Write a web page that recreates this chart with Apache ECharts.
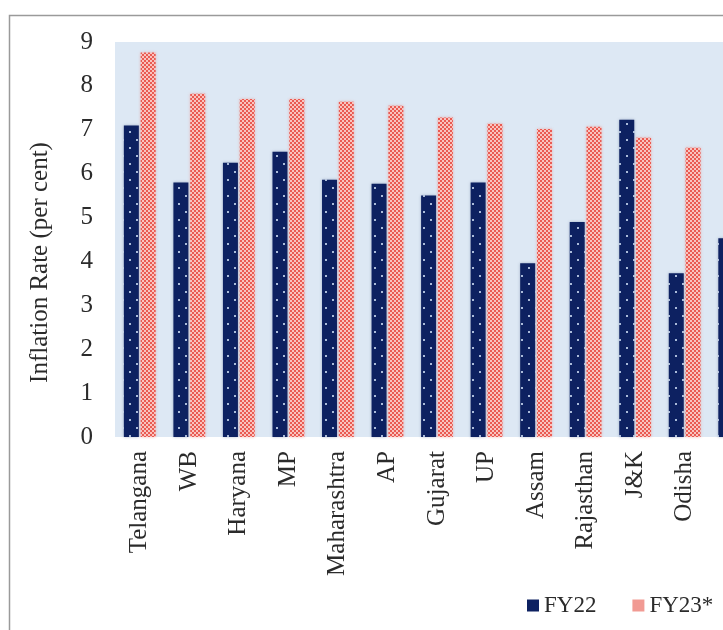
<!DOCTYPE html>
<html>
<head>
<meta charset="utf-8">
<script src="https://cdn.jsdelivr.net/npm/echarts@6/dist/echarts.min.js"></script>
<style>
  html, body { margin: 0; padding: 0; background: #fff; overflow: hidden; }
  /* the reference is cropped on the right, so the chart runs past the window */
  #chart { width: 759px; height: 630px; }
</style>
</head>
<body>
<div id="chart"></div>
<script>
// data (state-wise inflation, per cent)
const states = ['Telangana', 'WB', 'Haryana', 'MP', 'Maharashtra', 'AP', 'Gujarat', 'UP', 'Assam', 'Rajasthan', 'J&K', 'Odisha', 'Karnataka'];
const fy22 = [7.1, 5.8, 6.25, 6.5, 5.86, 5.77, 5.5, 5.8, 3.96, 4.9, 7.23, 3.73, 4.53];
const fy23 = [8.76, 7.82, 7.7, 7.7, 7.64, 7.55, 7.28, 7.14, 7.02, 7.07, 6.82, 6.59, 6.3];
const yTicks = [0, 9, 1];   // min, max, step

const serif = '"Liberation Serif", "DejaVu Serif", serif';
const textColor = '#2b2b2b';

// navy bars with sparse white dots
function navyPattern(){
  const c = document.createElement('canvas');
  c.width = 14; c.height = 16;
  const g = c.getContext('2d');
  g.fillStyle = '#0d2161';
  g.fillRect(0, 0, 14, 16);
  g.fillStyle = 'rgba(200,215,240,0.85)';
  g.fillRect(3, 3, 2, 2);
  g.fillRect(10, 11, 2, 2);
  return c;
}

// salmon bars with dense red checker dots
function salmonPattern(){
  const c = document.createElement('canvas');
  c.width = 4; c.height = 4;
  const g = c.getContext('2d');
  g.fillStyle = '#f8c4bf';
  g.fillRect(0, 0, 4, 4);
  g.fillStyle = '#ea5a52';
  g.fillRect(0, 0, 2, 2);
  g.fillRect(2, 2, 2, 2);
  return c;
}

const navy = { image: navyPattern(), repeat: 'repeat' };
const salmon = { image: salmonPattern(), repeat: 'repeat' };

const chart = echarts.init(document.getElementById('chart'), null, { renderer: 'canvas' });

const option = {
  backgroundColor: '#fff',
  animation: false,
  textStyle: { fontFamily: serif, color: textColor },
  graphic: [{
    type: 'rect', left: 7, top: 13, z: 0,
    shape: { width: 790, height: 660 },
    style: { fill: 'none', stroke: '#9a9a9a', lineWidth: 1.5 }
  }],
  grid: {
    left: 115, top: 42, right: 0, height: 395,
    show: true, backgroundColor: '#dde8f4', borderWidth: 0
  },
  legend: {
    left: 522, top: 589,
    itemWidth: 12, itemHeight: 12, itemGap: 36,
    textStyle: { fontFamily: serif, fontSize: 23, color: textColor },
    data: [
      { name: 'FY22', icon: 'rect', itemStyle: { color: '#0d2161' } },
      { name: 'FY23*', icon: 'rect', itemStyle: { color: '#f19a93' } }
    ]
  },
  xAxis: {
    type: 'category', data: states,
    axisLine: { show: false }, axisTick: { show: false },
    axisLabel: { interval: 0, rotate: 90, margin: 14, fontFamily: serif, fontSize: 25, color: textColor }
  },
  yAxis: {
    type: 'value', min: yTicks[0], max: yTicks[1], interval: yTicks[2],
    name: 'Inflation Rate (per cent)', nameLocation: 'middle', nameGap: 62,
    nameTextStyle: { fontFamily: serif, fontSize: 25, color: textColor, padding: [0, 46, 0, 0] },
    axisLine: { show: false }, axisTick: { show: false },
    splitLine: { show: false },
    axisLabel: { margin: 22, fontFamily: serif, fontSize: 25, color: textColor }
  },
  series: [
    {
      name: 'FY22', type: 'bar', data: fy22,
      barWidth: 15, barGap: '12%',
      itemStyle: { color: navy, shadowBlur: 3, shadowColor: 'rgba(40,60,110,0.35)' }
    },
    {
      name: 'FY23*', type: 'bar', data: fy23,
      barWidth: 15,
      itemStyle: { color: salmon, shadowBlur: 3, shadowColor: 'rgba(230,120,110,0.45)' }
    }
  ]
};

chart.setOption(option);
</script>
</body>
</html>
